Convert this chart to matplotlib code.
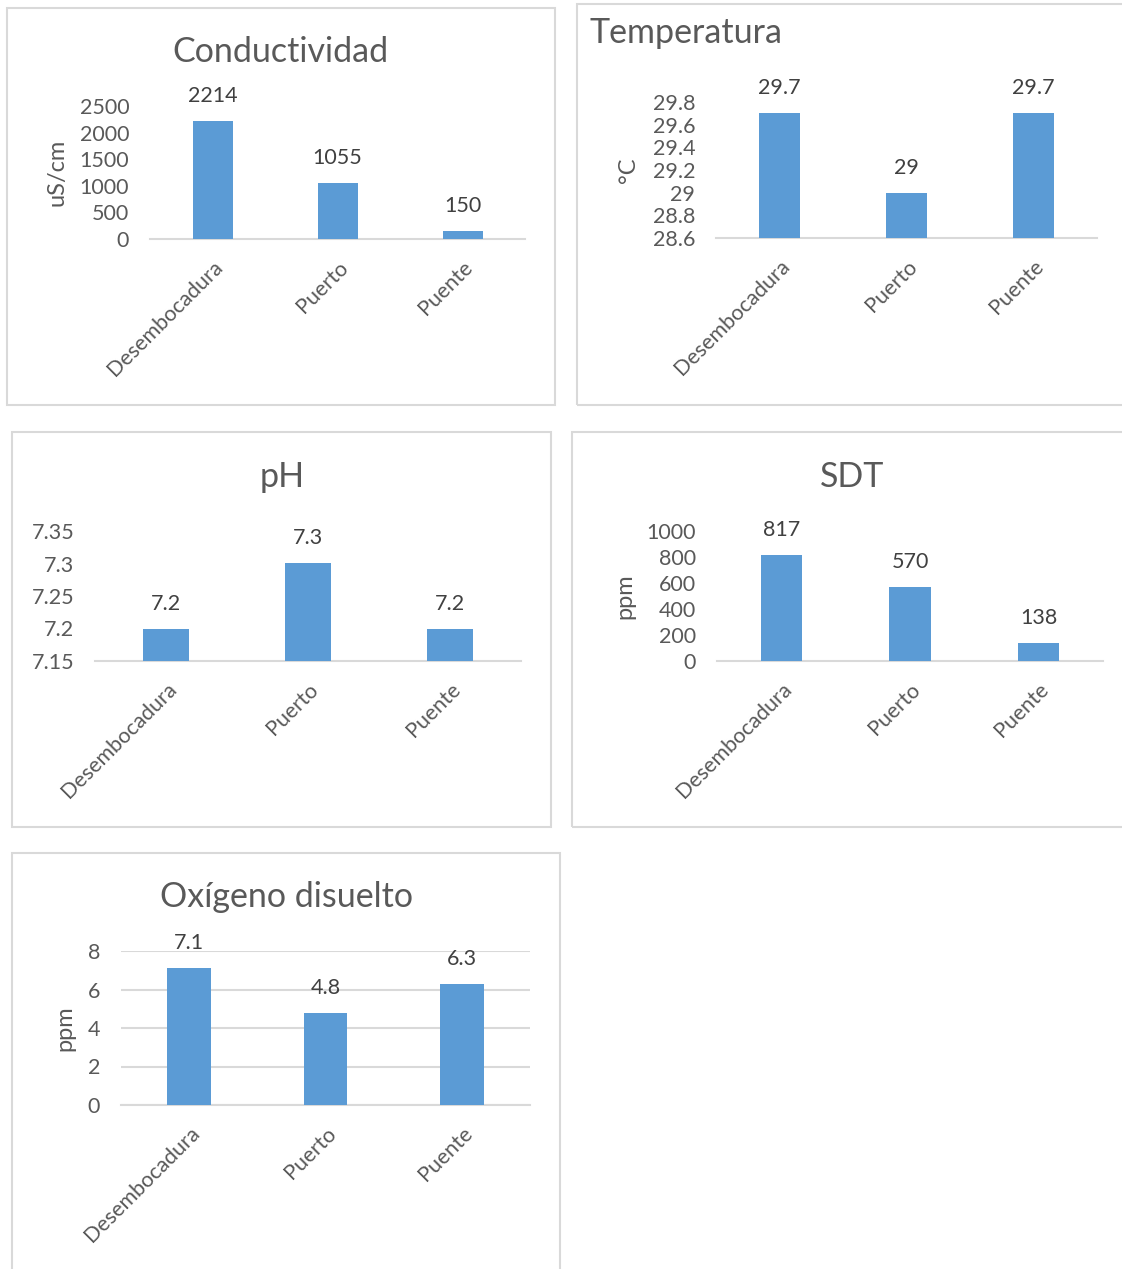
import matplotlib
matplotlib.use("Agg")
import matplotlib.pyplot as plt
from matplotlib.patches import Rectangle
from matplotlib.transforms import ScaledTranslation
import numpy as np

plt.rcParams['font.family'] = ['Lato', 'DejaVu Sans']

categories = ['Desembocadura', 'Puerto', 'Puente']
conductividad = [2214, 1055, 150]
temperatura = [29.7, 29, 29.7]
ph = [7.2, 7.3, 7.2]
sdt = [817, 570, 138]
oxigeno = [7.1, 4.8, 6.3]

W, H = 1122, 1269
BAR = '#5B9BD5'
TXT = '#595959'
LBL = '#404040'
LINE = '#D9D9D9'

fig = plt.figure(figsize=(W / 100, H / 100), dpi=100)


def fx(x):
    return x / W


def fy(y):
    return 1 - y / H


def panel(box, axbox, values, yticks, title, title_xy, title_ha='center',
          ylabel=None, ylabel_x=None, grid=False, bottom=0):
    # border of the chart area
    x0, y0, x1, y1 = box
    fig.patches.append(Rectangle((fx(x0), fy(y1)), (x1 - x0) / W, (y1 - y0) / H,
                                 transform=fig.transFigure, fill=False,
                                 edgecolor=LINE, linewidth=1.5))
    a0, b0, a1, b1 = axbox
    ax = fig.add_axes([fx(a0), fy(b1), (a1 - a0) / W, (b1 - b0) / H])
    x = np.arange(len(categories))
    ax.bar(x, np.array(values) - bottom, bottom=bottom, width=0.32, color=BAR, zorder=3)
    for xi, v in zip(x, values):
        ax.annotate(f"{v:g}", (xi, v), xytext=(0, 18), textcoords='offset points',
                    ha='center', va='center', fontsize=15.5, color=LBL)
    ax.set_xlim(-0.5, len(categories) - 0.5)
    ax.set_ylim(yticks[0], yticks[-1])
    ax.set_yticks(yticks)
    ax.set_yticklabels([f"{t:g}" for t in yticks])
    ax.set_xticks(x)
    ax.set_xticklabels(categories, rotation=45, ha='right', rotation_mode='anchor')
    shift = ScaledTranslation(-4 / 100, 0, fig.dpi_scale_trans)
    for lbl in ax.get_xticklabels():
        lbl.set_transform(lbl.get_transform() + shift)
    ax.tick_params(axis='both', length=0, labelsize=15.5, labelcolor=TXT)
    ax.tick_params(axis='y', pad=15)
    ax.tick_params(axis='x', pad=13)
    for s in ['top', 'right', 'left']:
        ax.spines[s].set_visible(False)
    ax.spines['bottom'].set_color(LINE)
    ax.spines['bottom'].set_linewidth(1.5)
    if grid:
        ax.yaxis.grid(True, color=LINE, linewidth=1.5, zorder=0)
    ax.set_facecolor('none')
    fig.text(fx(title_xy[0]), fy(title_xy[1]), title, ha=title_ha, va='center',
             fontsize=24.5, color=TXT)
    if ylabel:
        fig.text(fx(ylabel_x), fy((b0 + b1) / 2), ylabel, rotation=90,
                 ha='center', va='center', fontsize=17, color=TXT)
    return ax


panel((7, 8, 555, 405), (150, 106, 525, 239), conductividad,
      [0, 500, 1000, 1500, 2000, 2500], 'Conductividad', (280, 52),
      ylabel='uS/cm', ylabel_x=57)
panel((577, 4, 1130, 405), (716, 102, 1097, 238), temperatura,
      [28.6, 28.8, 29.0, 29.2, 29.4, 29.6, 29.8], 'Temperatura', (590, 33),
      title_ha='left', ylabel='°C', ylabel_x=628, bottom=28.6)
panel((12, 432, 551, 827), (95, 531, 521, 661), ph,
      [7.15, 7.2, 7.25, 7.3, 7.35], 'pH', (282, 477), bottom=7.15)
panel((572, 432, 1130, 827), (717, 531, 1103, 661), sdt,
      [0, 200, 400, 600, 800, 1000], 'SDT', (852, 477),
      ylabel='ppm', ylabel_x=625)
panel((12, 853, 560, 1280), (121, 951, 530, 1105), oxigeno,
      [0, 2, 4, 6, 8], 'Oxígeno disuelto', (286, 897),
      ylabel='ppm', ylabel_x=65, grid=True)

fig.savefig('out.png', dpi=100)
